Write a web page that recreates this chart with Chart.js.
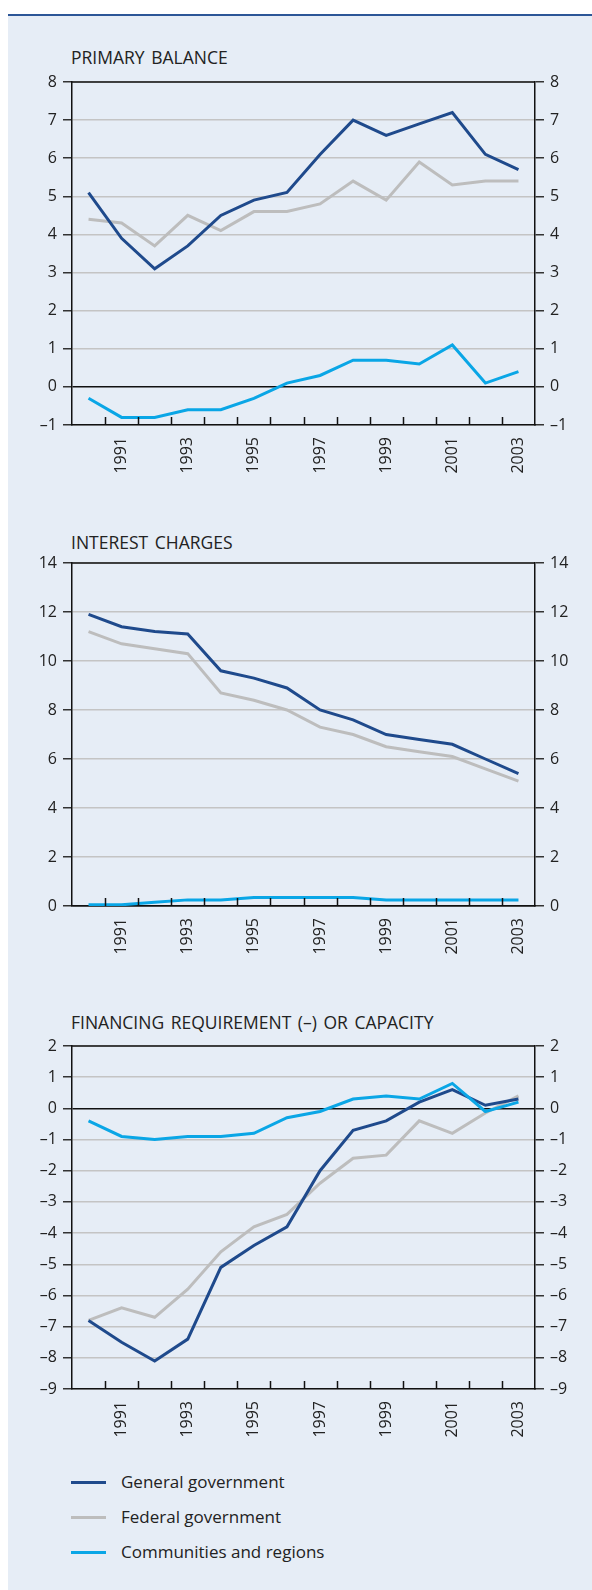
<!DOCTYPE html>
<html>
<head>
<meta charset="utf-8">
<script src="https://cdn.jsdelivr.net/npm/chart.js@4.4.1/dist/chart.umd.min.js"></script>
<style>
  html, body { margin: 0; padding: 0; background: #fff; }
  body { width: 592px; height: 1590px; position: relative; overflow: hidden; font-family: "Open Sans", sans-serif; color: #222; }
  #panel { position: absolute; left: 8px; top: 14px; width: 584px; height: 1576px; background: #e6edf6; border-top: 2px solid #2c5697; }
  canvas { position: absolute; left: 0; }
  .title { position: absolute; left: 71px; font-size: 17.5px; line-height: 22px; white-space: nowrap; word-spacing: 2px; }
  .legend { position: absolute; left: 71px; width: 400px; font-size: 17px; line-height: 22px; white-space: nowrap; }
  .legend div { position: relative; height: 35px; }
  .legend i { position: absolute; left: 0; top: 10px; width: 35px; height: 3px; }
  .legend span { position: absolute; left: 50px; top: 0; }
</style>
</head>
<body>
<div id="panel"></div>
<div class="title" style="top:46px">PRIMARY BALANCE</div>
<canvas id="c1" width="592" height="414" style="top:66px"></canvas>
<div class="title" style="top:531px">INTEREST CHARGES</div>
<canvas id="c2" width="592" height="414" style="top:547px"></canvas>
<div class="title" style="top:1011px">FINANCING REQUIREMENT (–) OR CAPACITY</div>
<canvas id="c3" width="592" height="414" style="top:1030px"></canvas>
<div class="legend" style="top:1471px">
  <div><i style="background:#1f4a8c"></i><span>General government</span></div>
  <div><i style="background:#bdbdbd"></i><span>Federal government</span></div>
  <div><i style="background:#0aa6e6"></i><span>Communities and regions</span></div>
</div>
<script>
const years = ["1990", "1991", "1992", "1993", "1994", "1995", "1996", "1997", "1998", "1999", "2000", "2001", "2002", "2003"];

const primaryGeneral = [5.1, 3.9, 3.1, 3.7, 4.5, 4.9, 5.1, 6.1, 7.0, 6.6, 6.9, 7.2, 6.1, 5.7];
const primaryFederal = [4.4, 4.3, 3.7, 4.5, 4.1, 4.6, 4.6, 4.8, 5.4, 4.9, 5.9, 5.3, 5.4, 5.4];
const primaryCommunities = [-0.3, -0.8, -0.8, -0.6, -0.6, -0.3, 0.1, 0.3, 0.7, 0.7, 0.6, 1.1, 0.1, 0.4];

const interestGeneral = [11.9, 11.4, 11.2, 11.1, 9.6, 9.3, 8.9, 8.0, 7.6, 7.0, 6.8, 6.6, 6.0, 5.4];
const interestFederal = [11.2, 10.7, 10.5, 10.3, 8.7, 8.4, 8.0, 7.3, 7.0, 6.5, 6.3, 6.1, 5.6, 5.1];
const interestCommunities = [0.05, 0.05, 0.15, 0.25, 0.25, 0.35, 0.35, 0.35, 0.35, 0.25, 0.25, 0.25, 0.25, 0.25];

const financingGeneral = [-6.8, -7.5, -8.1, -7.4, -5.1, -4.4, -3.8, -2.0, -0.7, -0.4, 0.2, 0.6, 0.1, 0.3];
const financingFederal = [-6.8, -6.4, -6.7, -5.8, -4.6, -3.8, -3.4, -2.4, -1.6, -1.5, -0.4, -0.8, -0.15, 0.4];
const financingCommunities = [-0.4, -0.9, -1.0, -0.9, -0.9, -0.8, -0.3, -0.1, 0.3, 0.4, 0.3, 0.8, -0.1, 0.2];

const DARK = "#1f4a8c";
const GREY = "#bdbdbd";
const CYAN = "#0aa6e6";

// top edge of the box + small inward ticks between the years
const frame = {
  id: "frame",
  afterDatasetsDraw(chart) {
    const { ctx, chartArea: a, scales: { x } } = chart;
    ctx.save();
    ctx.strokeStyle = "#111";
    ctx.lineWidth = 1.5;
    ctx.beginPath();
    ctx.moveTo(a.left, a.top);
    ctx.lineTo(a.right, a.top);
    for (let i = 0; i < x.ticks.length - 1; i++) {
      const px = Math.round((x.getPixelForTick(i) + x.getPixelForTick(i + 1)) / 2) + 0.5;
      ctx.moveTo(px, a.bottom);
      ctx.lineTo(px, a.bottom - 8);
    }
    ctx.stroke();
    ctx.restore();
  }
};

function fmt(v) {
  return v < 0 ? "–" + Math.abs(v) : "" + v;
}

function yAxis(min, max, step, position) {
  const left = position === "left";
  return {
    position,
    min, max,
    ticks: { stepSize: step, color: "#222", padding: 6, font: { family: "Open Sans", size: 16 }, callback: fmt },
    grid: {
      drawOnChartArea: left,
      color: (c) => (c.tick && c.tick.value === 0 ? "#111" : "#c4c4c4"),
      lineWidth: 1.5,
      tickLength: 9,
      tickColor: "#333"
    },
    border: { display: true, color: "#111", width: 1.5 },
    afterFit(s) { s.width = left ? 72 : 57; }
  };
}

function makeChart(id, general, federal, communities, min, max, step) {
  new Chart(document.getElementById(id), {
    type: "line",
    data: {
      labels: years,
      datasets: [
        { label: "Communities and regions", data: communities, borderColor: CYAN },
        { label: "General government", data: general, borderColor: DARK },
        { label: "Federal government", data: federal, borderColor: GREY }
      ]
    },
    options: {
      responsive: false,
      animation: false,
      layout: { padding: { top: 16, left: 0, right: 0, bottom: 0 } },
      elements: {
        point: { radius: 0 },
        line: { borderWidth: 3, tension: 0, fill: false }
      },
      plugins: { legend: { display: false }, tooltip: { enabled: false } },
      scales: {
        x: {
          offset: true,
          grid: { display: true, drawOnChartArea: false, drawTicks: false, offset: true },
          border: { display: true, color: "#111", width: 1.5 },
          ticks: {
            autoSkip: false,
            maxRotation: 90,
            minRotation: 90,
            padding: 12,
            color: "#222",
            font: { family: "Open Sans", size: 16 },
            callback(v, i) { return Number(years[i]) % 2 ? years[i] : ""; }
          },
          afterFit(s) { s.height = 55; }
        },
        y: yAxis(min, max, step, "left"),
        y2: yAxis(min, max, step, "right")
      }
    },
    plugins: [frame]
  });
}

makeChart("c1", primaryGeneral, primaryFederal, primaryCommunities, -1, 8, 1);
makeChart("c2", interestGeneral, interestFederal, interestCommunities, 0, 14, 2);
makeChart("c3", financingGeneral, financingFederal, financingCommunities, -9, 2, 1);
</script>
</body>
</html>
